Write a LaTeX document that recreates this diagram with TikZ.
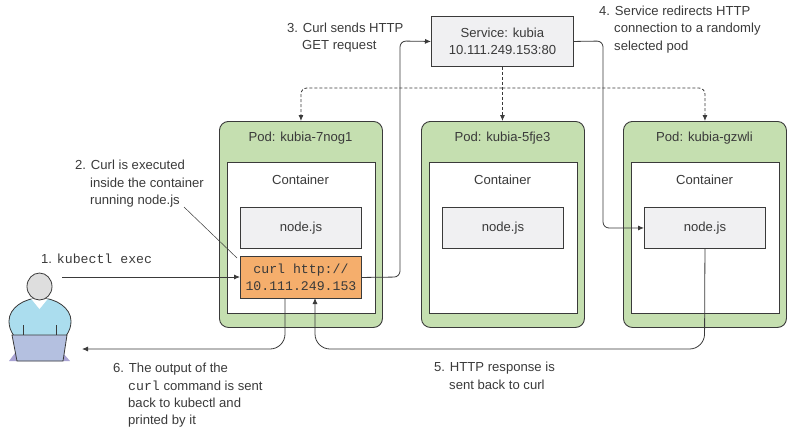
\documentclass[tikz,border=0pt]{standalone}
\usepackage{fontspec}
\setmainfont{Liberation Sans}
\setmonofont{Liberation Mono}
\usetikzlibrary{arrows.meta}
\definecolor{ink}{HTML}{3A3A3A}
\definecolor{podgreen}{HTML}{C5DFB0}
\definecolor{boxgrey}{HTML}{F0F0F2}
\definecolor{curlorange}{HTML}{F5AE6C}
\definecolor{skin}{HTML}{DEDEDE}
\definecolor{shirt}{HTML}{ABDDEE}
\definecolor{laptop}{HTML}{B4C0E0}
\definecolor{skirt}{HTML}{A9A3D3}
\tikzset{
  every node/.style={text=ink,font=\fontsize{13.1}{17.3}\selectfont},
  shapebox/.style={draw=ink,line width=0.9pt,minimum height=0pt,minimum width=0pt,inner sep=0pt,anchor=north west},
  podbox/.style={shapebox,fill=podgreen,rounded corners=9pt,minimum width=163pt,minimum height=206pt},
  contbox/.style={shapebox,fill=white,minimum width=148pt,minimum height=151pt},
  jsbox/.style={shapebox,fill=boxgrey,minimum width=121pt,minimum height=41pt},
  curlbox/.style={shapebox,fill=curlorange,minimum width=121pt,minimum height=42pt,align=center,font=\ttfamily\fontsize{13.2}{17.3}\selectfont},
  svcbox/.style={shapebox,fill=boxgrey,minimum width=142pt,minimum height=50pt,align=center},
  note/.style={anchor=north west,align=left,inner sep=0pt},
  title/.style={anchor=center,inner sep=0pt},
  conn/.style={draw=ink,line width=0.8pt,-{Latex[length=6pt,width=5pt]}},
  plainconn/.style={draw=ink,line width=0.8pt},
  dashconn/.style={conn,dashed,dash pattern=on 3pt off 2pt},
}
\begin{document}
\begin{tikzpicture}[x=1pt,y=-1pt]
\useasboundingbox (0,0) rectangle (810,432);
% pods
\foreach \n/\x/\name in {a/219/kubia-7nog1,b/421/kubia-5fje3,c/623/kubia-gzwli}{
  \node[podbox] (pod\n) at (\x,121) {};
  \node[title] (podt\n) at (\x+81.5,138) {Pod: \name};
  \node[contbox] (cont\n) at (\x+8,162) {};
  \node[title] (contt\n) at (\x+81.5,180) {Container};
  \node[jsbox] (js\n) at (\x+21,207) {node.js};
}
\node[curlbox] (curl) at (240,256) {curl http://\\10.111.249.153};
\node[svcbox] (svc) at (431,16) {Service: kubia\\10.111.249.153:80};
% person
\fill[skirt] (9,361) -- (15,353) -- (63,353) -- (70,361) -- cycle;
\draw[draw=ink,line width=0.8pt,fill=shirt] (14,336) .. controls (10,330) and (9,326) .. (9,321) .. controls (9,308) and (24,298) .. (40,298) .. controls (56,298) and (71,308) .. (71,321) .. controls (71,326) and (70,330) .. (66,336) -- cycle;
\fill[white] (31,298.6) -- (39.5,309) -- (48,298.6) -- cycle;
\draw[plainconn] (23,325) -- (23,335) (56,325) -- (56,335);
\draw[draw=ink,line width=0.8pt,fill=skin] (39.5,286.5) ellipse (12.5pt and 13.5pt);
\draw[draw=ink,line width=0.8pt,fill=laptop] (12,335) -- (67,335) -- (63,361) -- (17,361) -- cycle;
% connector end points
\coordinate (kstart) at (62,277);
\coordinate (kback) at (82,349);
\coordinate (lead) at (184,207);
% connectors
\draw[conn] (kstart) -- (curl.west |- kstart);
\draw[conn,rounded corners=6pt] (curl.east) -- (400,277) -- (400,41) -- (svc.west);
\draw[conn,rounded corners=6pt] (svc.east) -- (603,41) -- (603,228) -- (jsc.west);
\draw[dashconn] (svc.south) -- (poda.north -| svc.south);
\draw[dashconn,rounded corners=6pt] (svc.south |- 0,88) -- (poda.north |- 0,88) -- (poda.north);
\draw[dashconn,rounded corners=6pt] (svc.south |- 0,88) -- (podc.north |- 0,88) -- (podc.north);
\draw[conn,rounded corners=15pt] (jsc.south) -- (704.5,349) -- (315,349) -- (315,298);
\draw[conn,rounded corners=15pt] (285,298) -- (285,349) -- (kback);
\draw[draw=ink,line width=0.5pt] (lead) -- (237,258);
% notes
\node[note] (n1) at (41,254) {1. \texttt{\fontsize{13.2}{17.3}\selectfont kubectl exec}};
\node[note] (n2) at (75,160) {2. Curl is executed\\\hspace*{15pt}inside the container\\\hspace*{15pt}running node.js};
\node[note] (n3) at (287,23) {3. Curl sends HTTP\\\hspace*{15pt}GET request};
\node[note] (n4) at (599,6) {4. Service redirects HTTP\\\hspace*{15pt}connection to a randomly\\\hspace*{15pt}selected pod};
\node[note] (n5) at (434,362) {5. HTTP response is\\\hspace*{15pt}sent back to curl};
\node[note] (n6) at (113,363) {6. The output of the\\\hspace*{15pt}\texttt{\fontsize{13.2}{17.3}\selectfont curl} command is sent\\\hspace*{15pt}back to kubectl and\\\hspace*{15pt}printed by it};
\end{tikzpicture}
\end{document}
